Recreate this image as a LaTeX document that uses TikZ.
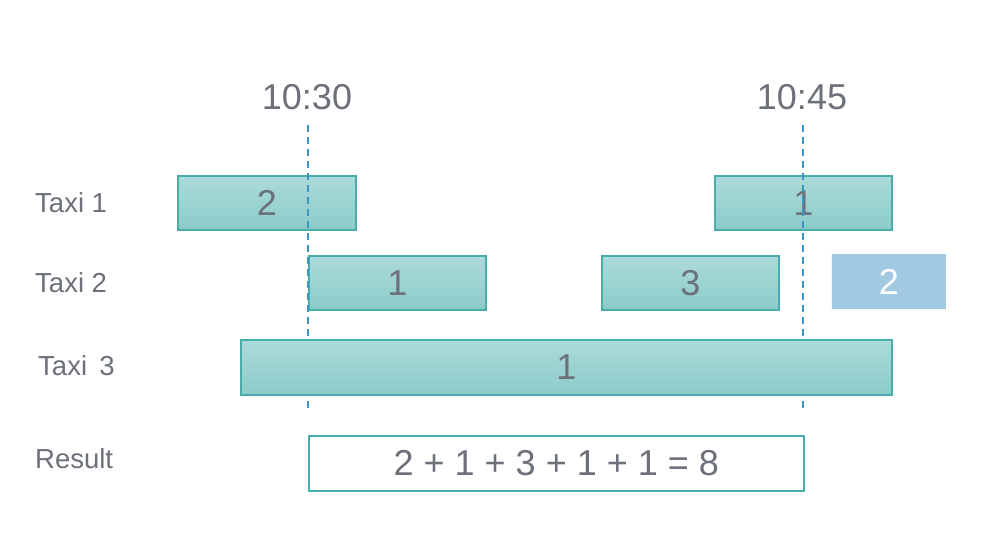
\documentclass[tikz,border=0pt]{standalone}
\usepackage{fontspec}
\setmainfont{Liberation Sans}
\usetikzlibrary{positioning}
\definecolor{txtgray}{HTML}{6B7079}
\definecolor{tealline}{HTML}{4AADAD}
\definecolor{tealtop}{HTML}{ABDBDA}
\definecolor{tealbot}{HTML}{8CCBC9}
\definecolor{dashblue}{HTML}{3B95C6}
\definecolor{nextblue}{HTML}{A1C9E1}
\tikzset{
  trip/.style    = {draw=tealline, line width=1.6pt, top color=tealtop, bottom color=tealbot,
                    anchor=north west, minimum height=54pt, inner sep=0pt,
                    text=txtgray, font=\fontsize{36}{42}\selectfont},
  nexttrip/.style = {trip, draw=none, fill=nextblue, top color=nextblue, bottom color=nextblue, text=white},
  resbox/.style  = {draw=tealline, line width=1.6pt, fill=white, anchor=north west,
                    minimum height=56pt, inner sep=0pt, text=txtgray, font=\fontsize{36}{42}\selectfont},
  rowlbl/.style  = {anchor=west, inner sep=0pt, text=txtgray, font=\fontsize{27.5}{32}\selectfont},
  timelbl/.style = {inner sep=0pt, text=txtgray, font=\fontsize{36}{42}\selectfont},
  tline/.style   = {dashblue, line width=1.6pt, dash pattern=on 7pt off 5pt}
}

\begin{document}
\begin{tikzpicture}[x=1pt, y=-1pt]
\useasboundingbox (0,0) rectangle (988,542);
% ---- row labels ----
\node[rowlbl] (lbl1) at (35,203) {Taxi 1};
\node[rowlbl] (lbl2) at (35,283) {Taxi 2};
\node[rowlbl] (lbl3) at (38,366) {Taxi\, 3};
\node[rowlbl] (lblres) at (35,459) {Result};

% ---- time marks ----
\node[timelbl] (t1030) at (307,97) {10:30};
\node[timelbl] (t1045) at (802,97) {10:45};

% ---- taxi 1 and 2 ----
\node[trip, minimum width=178pt] (a1) at (177,175) {2};
\node[trip, minimum width=177pt] (a2) at (714,175) {1};
\node[trip, minimum width=177pt] (b1) at (308,255) {1};
\node[trip, minimum width=177pt] (b2) at (601,255) {3};
\node[nexttrip, minimum width=114pt] (b3) at (831,254) {2};

% ---- dashed window ----
\coordinate (s1) at (308,125);
\coordinate (e1) at (308,409);
\coordinate (s2) at (803,125);
\coordinate (e2) at (803,409);
\draw[tline] (s1) -- (e1);
\draw[tline] (s2) -- (e2);

% ---- taxi 3 ----
\node[trip, minimum width=651pt, minimum height=55pt] (c1) at (240,339) {1};

% ---- result ----
\node[resbox, minimum width=495pt, minimum height=55pt] (res) at (308,435) {2 + 1 + 3 + 1 + 1 = 8};
\end{tikzpicture}
\end{document}
